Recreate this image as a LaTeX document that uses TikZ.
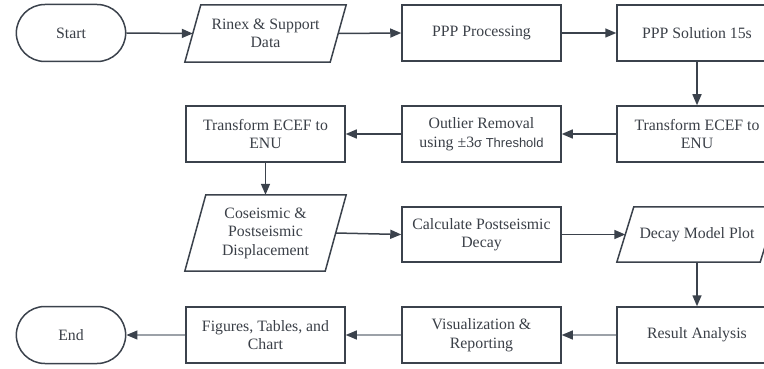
\documentclass[tikz,border=0pt]{standalone}
\usepackage{fontspec}
\setmainfont{Liberation Serif}
\newfontfamily\thrfont{Liberation Sans}
\usetikzlibrary{arrows.meta,shapes.misc}
\definecolor{ink}{HTML}{3B424C}
\definecolor{txt}{HTML}{3A3F47}
\definecolor{lightln}{HTML}{9CA1A8}
\tikzset{
  every node/.style={font=\fontsize{15.8}{18.5}\selectfont, text=txt, align=center},
  boxnode/.style={draw=ink, line width=1.5pt, rectangle, minimum width=159pt, minimum height=56pt, inner sep=2pt},
  termnode/.style={draw=ink, line width=1.5pt, rounded rectangle, minimum width=116pt, minimum height=57pt},
  paranode/.style={draw=none, rectangle, minimum width=161pt, inner sep=2pt},
  paraline/.style={draw=ink, line width=1.5pt, line join=miter},
  flow/.style={draw=ink, line width=1.5pt, -{Triangle[length=11pt,width=9pt]}},
  flowlight/.style={draw=lightln, line width=1.1pt, -{Triangle[length=11pt,width=9pt,color=ink]}}
}
\newcommand\paradraw[2]{\draw[paraline] ([xshift=#2]#1.north west) -- (#1.north east) -- ([xshift=-#2]#1.south east) -- (#1.south west) -- cycle;}
\begin{document}
\begin{tikzpicture}[x=1pt,y=-1pt]
\useasboundingbox (0,0) rectangle (764,369);
\clip (0,0) rectangle (764,369);
% row 1
\node[termnode] (start) at (71,33) {Start};
\node[paranode, minimum height=57pt] (rinex) at (265.5,33.5) {Rinex \& Support\\Data};
\paradraw{rinex}{16pt}
\node[boxnode] (proc) at (481.5,33) {PPP Processing};
\node[boxnode, minimum width=160pt] (sol) at (697,33) {PPP Solution 15s};
% row 2
\node[boxnode, minimum width=160pt] (ecefR) at (697,134) {Transform ECEF to\\ENU};
\node[boxnode] (outl) at (481.5,134) {Outlier Removal\\using ±3{\thrfont\fontsize{13}{14}\selectfont σ Threshold}};
\node[boxnode] (ecefL) at (265.5,134) {Transform ECEF to\\ENU};
% row 3
\node[paranode, minimum height=76pt] (cos) at (265.5,233) {Coseismic \&\\Postseismic\\Displacement};
\paradraw{cos}{21pt}
\node[boxnode, minimum height=55pt] (calc) at (481.5,234.5) {Calculate Postseismic\\Decay};
\node[paranode, minimum width=160pt, minimum height=55pt] (decay) at (697,234.5) {Decay Model Plot};
\paradraw{decay}{17pt}
% row 4
\node[termnode] (end) at (71,335) {End};
\node[boxnode] (fig) at (265.5,335) {Figures, Tables, and\\Chart};
\node[boxnode] (vis) at (481.5,335) {Visualization \&\\Reporting};
\node[boxnode, minimum width=160pt] (res) at (697,335) {Result Analysis};
% coordinates on slanted sides
\coordinate (rinexW) at ([xshift=8pt]rinex.west);
\coordinate (rinexE) at ([xshift=-8pt]rinex.east);
\coordinate (cosE) at ([xshift=-10.5pt]cos.east);
\coordinate (decayW) at ([xshift=8.5pt]decay.west);
\coordinate (ecefLS) at (ecefL.south);
\coordinate (cosN) at (cos.north);
% connectors
\draw[flow] (start.east) -- (rinexW);
\draw[flow] (rinexE) -- (proc.west);
\draw[flow] (proc.east) -- (sol.west);
\draw[flow] (sol.south) -- (ecefR.north);
\draw[flow] (ecefR.west) -- (outl.east);
\draw[flow] (outl.west) -- (ecefL.east);
\draw[flow] (ecefLS) -- (cosN);
\draw[flow] (cosE) -- (calc.west);
\draw[flow] (calc.east) -- (decayW);
\draw[flow] (decay.south) -- (res.north);
\draw[flowlight] (res.west) -- (vis.east);
\draw[flowlight] (vis.west) -- (fig.east);
\draw[flowlight] (fig.west) -- (end.east);
\end{tikzpicture}
\end{document}
